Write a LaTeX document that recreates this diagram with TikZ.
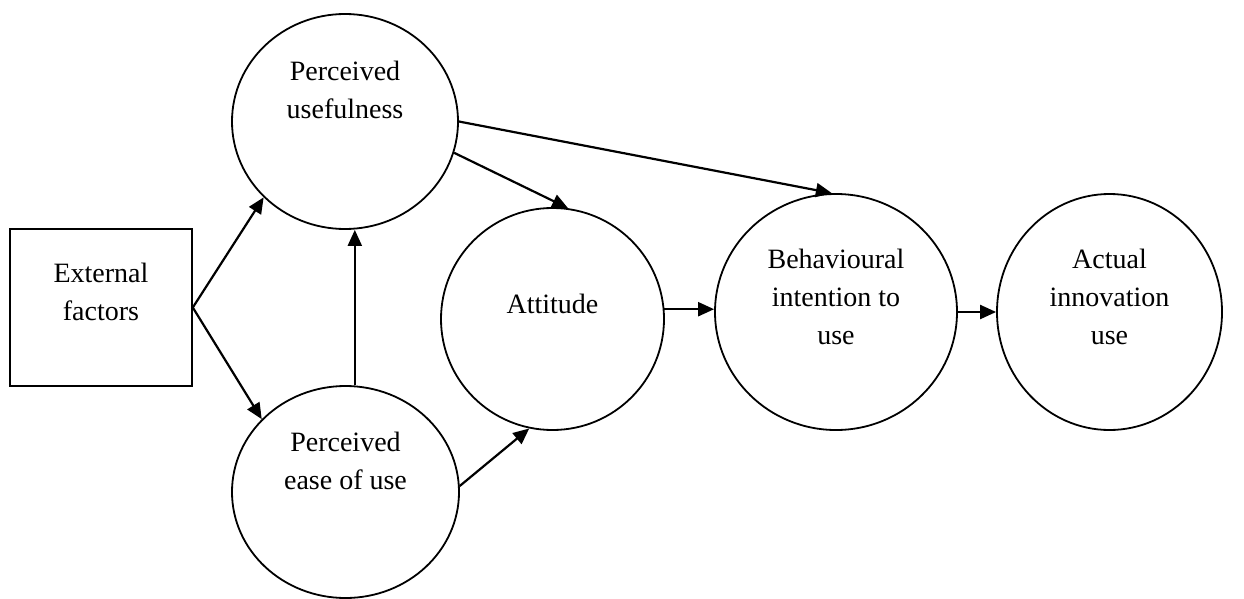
\documentclass[tikz,border=0pt]{standalone}
\usepackage{fontspec}
\setmainfont{Liberation Serif}
\usetikzlibrary{arrows.meta,shapes.geometric}
\begin{document}
\begin{tikzpicture}[x=1pt,y=-1pt,
  circ/.style={draw, line width=1.8pt, ellipse, inner sep=0pt},
  boxnode/.style={draw, line width=1.6pt, rectangle, inner sep=0pt},
  lbl/.style={align=center, font=\fontsize{28}{38}\selectfont, inner sep=0pt},
  arr/.style={line width=2.2pt, -{Triangle[length=16pt,width=14pt]}}]
\useasboundingbox (0,0) rectangle (1244,599);
\node[boxnode, minimum width=182pt, minimum height=157pt,
  label={[lbl,yshift=15.5pt]center:External\\factors}] (ext) at (101,307.5) {};
\node[circ, minimum width=226pt, minimum height=215pt,
  label={[lbl,yshift=32pt]center:Perceived\\usefulness}] (pu) at (345,121.5) {};
\node[circ, minimum width=227pt, minimum height=212pt,
  label={[lbl,yshift=31.5pt]center:Perceived\\ease of use}] (peou) at (345.5,492) {};
\node[circ, minimum width=223pt, minimum height=222pt,
  label={[lbl,yshift=15.5pt]center:Attitude}] (att) at (552.5,319) {};
\node[circ, minimum width=242pt, minimum height=236pt,
  label={[lbl,yshift=15pt]center:Behavioural\\intention to\\use}] (bi) at (836,312) {};
\node[circ, minimum width=225pt, minimum height=236pt,
  label={[lbl,yshift=15pt]center:Actual\\innovation\\use}] (act) at (1109.5,312) {};
\draw[arr] (ext.east) -- (pu.223);
\draw[arr] (ext.east) -- (peou.139);
\draw[arr] (peou.85.4) -- (peou.85.4 |- pu.south);
\draw[arr] (pu.east) -- (bi.92);
\draw[arr] (pu.344) -- (att.82);
\draw[arr] (peou.3.5) -- (att.258);
\draw[arr] (att.5) -- (att.5 -| bi.west);
\draw[arr] (bi.east) -- (act.west);
\end{tikzpicture}
\end{document}
